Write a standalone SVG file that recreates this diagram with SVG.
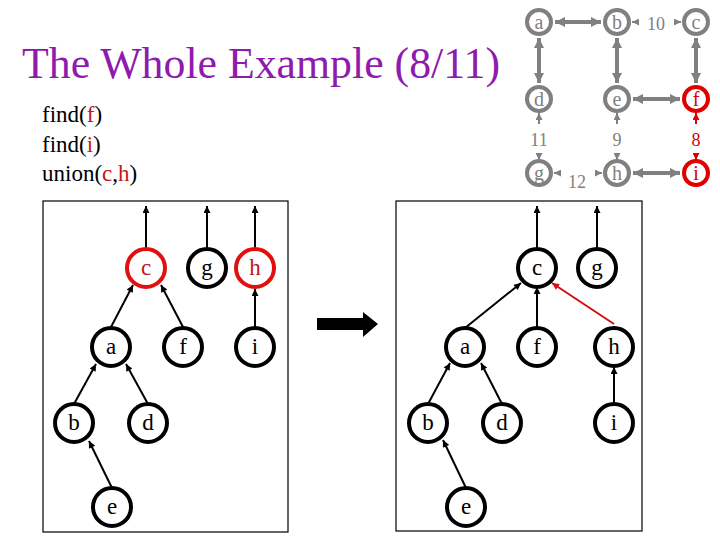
<svg xmlns="http://www.w3.org/2000/svg" width="720" height="540" viewBox="0 0 720 540">
<defs>
<style>
text{font-family:'Liberation Serif','Times New Roman','DejaVu Serif',serif}
.nd{fill:#fff;stroke:#000;stroke-width:4}
.ndr{fill:#fff;stroke:#e01010;stroke-width:4}
.lbl{font-size:23px;text-anchor:middle;fill:#000}
.lblr{fill:#c01818}
.gn{fill:#fff;stroke:#808080;stroke-width:4}
.gnr{fill:#fff;stroke:#e00000;stroke-width:4}
.gl{font-size:20px;text-anchor:middle;fill:#808080}
.glr{fill:#d00000}
.red{fill:#c01818}
.e{stroke:#000;stroke-width:2;fill:none;marker-end:url(#ah)}
.er{stroke:#d01010;stroke-width:2;fill:none;marker-end:url(#ahr)}
.ge{stroke:#808080;stroke-width:4;fill:none;marker-start:url(#gs);marker-end:url(#ge)}
.gs{stroke:#808080;stroke-width:2;fill:none;marker-end:url(#gsm)}
.gsr{stroke:#e00000;stroke-width:2;fill:none;marker-end:url(#gsmr)}
</style>
<marker id="ah" viewBox="0 0 10 10" refX="10" refY="5" markerWidth="8" markerHeight="7" markerUnits="userSpaceOnUse" orient="auto"><path d="M0,0L10,5L0,10z" fill="#000"/></marker>
<marker id="ahr" viewBox="0 0 10 10" refX="10" refY="5" markerWidth="8" markerHeight="7" markerUnits="userSpaceOnUse" orient="auto"><path d="M0,0L10,5L0,10z" fill="#d01010"/></marker>
<marker id="ge" viewBox="0 0 10 10" refX="10" refY="5" markerWidth="10" markerHeight="10" markerUnits="userSpaceOnUse" orient="auto"><path d="M0,0L10,5L0,10z" fill="#808080"/></marker>
<marker id="gs" viewBox="0 0 10 10" refX="0" refY="5" markerWidth="10" markerHeight="10" markerUnits="userSpaceOnUse" orient="auto"><path d="M10,0L0,5L10,10z" fill="#808080"/></marker>
<marker id="gsm" viewBox="0 0 10 10" refX="10" refY="5" markerWidth="7" markerHeight="7" markerUnits="userSpaceOnUse" orient="auto"><path d="M0,0L10,5L0,10z" fill="#808080"/></marker>
<marker id="gsmr" viewBox="0 0 10 10" refX="10" refY="5" markerWidth="7" markerHeight="7" markerUnits="userSpaceOnUse" orient="auto"><path d="M0,0L10,5L0,10z" fill="#e00000"/></marker>
</defs>
<rect width="720" height="540" fill="#fff"/>

<text x="22" y="78" font-size="44" fill="#8e1aae" textLength="478" lengthAdjust="spacingAndGlyphs">The Whole Example (8/11)</text>
<g font-size="23" fill="#000">
<text x="42" y="122">find(<tspan class="red">f</tspan>)</text>
<text x="42" y="152">find(<tspan class="red">i</tspan>)</text>
<text x="42" y="181">union(<tspan class="red">c</tspan>,<tspan class="red">h</tspan>)</text>
</g>

<!-- top-right graph -->
<g id="graph-edges">
<line class="ge" x1="555" y1="22" x2="601" y2="22"/>
<line class="ge" x1="539" y1="38" x2="539" y2="83"/>
<line class="ge" x1="617" y1="38" x2="617" y2="83"/>
<line class="ge" x1="633" y1="99" x2="680" y2="99"/>
<line class="ge" x1="696" y1="38" x2="696" y2="83"/>
<line class="ge" x1="633" y1="173" x2="680" y2="173"/>
<line class="gs" x1="539" y1="124" x2="539" y2="113"/>
<line class="gs" x1="617" y1="124" x2="617" y2="113"/>
<line class="gsr" x1="696" y1="124" x2="696" y2="113"/>
<line class="gs" x1="539" y1="155" x2="539" y2="160"/>
<line class="gs" x1="617" y1="155" x2="617" y2="160"/>
<line class="gsr" x1="696" y1="155" x2="696" y2="160"/>
<line class="gs" x1="637" y1="22" x2="632" y2="22"/>
<line class="gs" x1="676" y1="22" x2="681" y2="22"/>
<line class="gs" x1="559" y1="173" x2="554" y2="173"/>
<line class="gs" x1="597" y1="173" x2="602" y2="173"/>
</g>
<g id="g-a"><circle class="gn" cx="539" cy="22" r="12"/><text class="gl" x="539" y="29">a</text></g>
<g id="g-b"><circle class="gn" cx="617" cy="22" r="12"/><text class="gl" x="617" y="29">b</text></g>
<g id="g-c"><circle class="gn" cx="696" cy="22" r="12"/><text class="gl" x="696" y="29">c</text></g>
<g id="g-d"><circle class="gn" cx="539" cy="99" r="12"/><text class="gl" x="539" y="106">d</text></g>
<g id="g-e"><circle class="gn" cx="617" cy="99" r="12"/><text class="gl" x="617" y="106">e</text></g>
<g id="g-f"><circle class="gnr" cx="696" cy="99" r="12"/><text class="gl glr" x="696" y="106">f</text></g>
<g id="g-g"><circle class="gn" cx="539" cy="173" r="12"/><text class="gl" x="539" y="180">g</text></g>
<g id="g-h"><circle class="gn" cx="617" cy="173" r="12"/><text class="gl" x="617" y="180">h</text></g>
<g id="g-i"><circle class="gnr" cx="696" cy="173" r="12"/><text class="gl glr" x="696" y="180">i</text></g>
<g id="weights" font-size="18" text-anchor="middle" fill="#808080">
<text x="539" y="146">11</text>
<text x="617" y="146">9</text>
<text x="696" y="146" fill="#d00000">8</text>
<text x="656" y="30">10</text>
<text x="577" y="188">12</text>
</g>

<!-- left tree -->
<rect x="43" y="201" width="245" height="331" fill="none" stroke="#000" stroke-width="1.2"/>
<g id="left-edges">
<line class="e" x1="146" y1="249" x2="146" y2="206"/>
<line class="e" x1="207" y1="249" x2="207" y2="206"/>
<line class="e" x1="255" y1="249" x2="255" y2="206"/>
<line class="e" x1="111" y1="327" x2="133" y2="285"/>
<line class="e" x1="183" y1="327" x2="161" y2="285"/>
<line class="e" x1="255" y1="328" x2="255" y2="289"/>
<line class="e" x1="74" y1="404" x2="96" y2="364"/>
<line class="e" x1="148" y1="404" x2="126" y2="364"/>
<line class="e" x1="112" y1="488" x2="89" y2="441"/>
</g>
<g id="L-c"><circle class="ndr" cx="146" cy="268" r="19"/><text class="lbl lblr" x="146" y="275">c</text></g>
<g id="L-g"><circle class="nd" cx="207" cy="268" r="19"/><text class="lbl" x="207" y="275">g</text></g>
<g id="L-h"><circle class="ndr" cx="255" cy="268" r="19"/><text class="lbl lblr" x="255" y="275">h</text></g>
<g id="L-a"><circle class="nd" cx="111" cy="347" r="19"/><text class="lbl" x="111" y="354">a</text></g>
<g id="L-f"><circle class="nd" cx="183" cy="347" r="19"/><text class="lbl" x="183" y="354">f</text></g>
<g id="L-i"><circle class="nd" cx="255" cy="347" r="19"/><text class="lbl" x="255" y="354">i</text></g>
<g id="L-b"><circle class="nd" cx="74" cy="423" r="19"/><text class="lbl" x="74" y="430">b</text></g>
<g id="L-d"><circle class="nd" cx="148" cy="423" r="19"/><text class="lbl" x="148" y="430">d</text></g>
<g id="L-e"><circle class="nd" cx="112" cy="507" r="19"/><text class="lbl" x="112" y="514">e</text></g>

<!-- big arrow -->
<path d="M317,318H363V312L378,324L363,337V330H317Z" fill="#000"/>

<!-- right tree -->
<rect x="396" y="201" width="246" height="330" fill="none" stroke="#000" stroke-width="1.2"/>
<g id="right-edges">
<line class="e" x1="537" y1="249" x2="537" y2="206"/>
<line class="e" x1="597" y1="249" x2="597" y2="206"/>
<line class="e" x1="465" y1="328" x2="521" y2="283"/>
<line class="e" x1="537" y1="328" x2="537" y2="287"/>
<line class="er" x1="614" y1="324" x2="552" y2="283"/>
<line class="e" x1="428" y1="404" x2="450" y2="363"/>
<line class="e" x1="502" y1="404" x2="481" y2="363"/>
<line class="e" x1="614" y1="404" x2="614" y2="367"/>
<line class="e" x1="466" y1="488" x2="443" y2="440"/>
</g>
<g id="R-c"><circle class="nd" cx="537" cy="268" r="19"/><text class="lbl" x="537" y="275">c</text></g>
<g id="R-g"><circle class="nd" cx="597" cy="268" r="19"/><text class="lbl" x="597" y="275">g</text></g>
<g id="R-a"><circle class="nd" cx="465" cy="347" r="19"/><text class="lbl" x="465" y="354">a</text></g>
<g id="R-f"><circle class="nd" cx="537" cy="347" r="19"/><text class="lbl" x="537" y="354">f</text></g>
<g id="R-h"><circle class="nd" cx="614" cy="347" r="19"/><text class="lbl" x="614" y="354">h</text></g>
<g id="R-b"><circle class="nd" cx="428" cy="423" r="19"/><text class="lbl" x="428" y="430">b</text></g>
<g id="R-d"><circle class="nd" cx="502" cy="423" r="19"/><text class="lbl" x="502" y="430">d</text></g>
<g id="R-i"><circle class="nd" cx="614" cy="423" r="19"/><text class="lbl" x="614" y="430">i</text></g>
<g id="R-e"><circle class="nd" cx="466" cy="507" r="19"/><text class="lbl" x="466" y="514">e</text></g>
</svg>
